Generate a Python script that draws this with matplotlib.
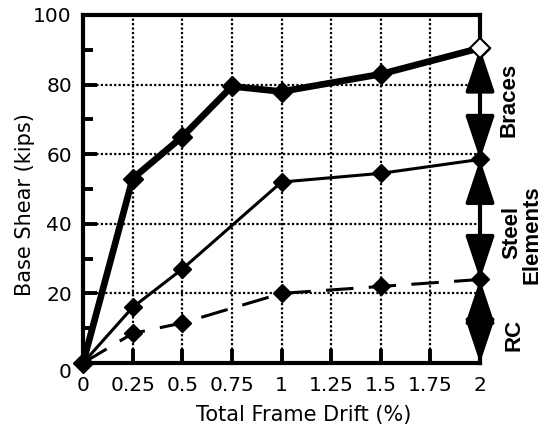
import matplotlib
matplotlib.use("Agg")
import matplotlib.pyplot as plt
from matplotlib.ticker import MultipleLocator

plt.rcParams['font.family'] = ['DejaVu Sans']

# drift (%) and base shear (kips)
drift = [0, 0.25, 0.5, 0.75, 1, 1.5, 2]
braces = [0, 53, 65, 79.5, 78, 83, 90.5]

drift_s = [0, 0.25, 0.5, 1, 1.5, 2]
steel = [0, 16, 27, 52, 54.5, 58.5]

drift_rc = [0, 0.25, 0.5, 1, 1.5, 2]
rc = [0, 8.5, 11.5, 20, 22, 24]

xticks = [0, 0.25, 0.5, 0.75, 1, 1.25, 1.5, 1.75, 2]
xticklabels = ["0", "0.25", "0.5", "0.75", "1", "1.25", "1.5", "1.75", "2"]
yticks = [0, 20, 40, 60, 80, 100]

fig = plt.figure(figsize=(5.44, 4.37), dpi=100)
ax = fig.add_axes([0.1526, 0.1693, 0.7298, 0.7964])

ax.grid(True, color="black", linestyle=(0, (1, 1)), linewidth=1.6)
ax.set_axisbelow(True)

ax.plot(drift, braces, color="black", lw=4.8, marker="D", ms=10.5,
        mfc="black", mec="black", clip_on=False, zorder=4)
ax.plot(drift[-1], braces[-1], marker="D", ms=10, mfc="white",
        mec="black", mew=1.5, clip_on=False, zorder=5)
ax.plot(drift_s, steel, color="black", lw=2.2, marker="D", ms=9.5,
        clip_on=False, zorder=4)
ax.plot(drift_rc, rc, color="black", lw=2.2, linestyle=(0, (9, 5)),
        marker="D", ms=9.5, clip_on=False, zorder=4)

# double arrows on the right edge
arr = dict(arrowstyle="<|-|>,head_length=2.7,head_width=0.9",
           color="black", lw=2.8, shrinkA=0, shrinkB=0, mutation_scale=10)
ax.annotate("", xy=(2, braces[-1]), xytext=(2, steel[-1]),
            arrowprops=arr, annotation_clip=False)
ax.annotate("", xy=(2, steel[-1]), xytext=(2, rc[-1]),
            arrowprops=arr, annotation_clip=False)
ax.annotate("", xy=(2, rc[-1]), xytext=(2, 0),
            arrowprops=arr, annotation_clip=False)

lab = dict(rotation=90, rotation_mode="anchor", ha="center", va="baseline",
           fontsize=16, fontweight="bold", family="Liberation Sans",
           clip_on=False)
ax.text(2.176, 75.6, "Braces", **lab)
ax.text(2.19, 37.6, "Steel", **lab)
ax.text(2.29, 36.8, "Elements", **lab)
ax.text(2.201, 8.0, "RC", **lab)

ax.set_xlim(0, 2)
ax.set_ylim(0, 100)
ax.set_xticks(xticks)
ax.set_xticklabels(xticklabels)
ax.set_yticks(yticks)
ax.yaxis.set_minor_locator(MultipleLocator(10))
ax.tick_params(axis="both", which="major", direction="in", length=10,
               width=2.8, labelsize=14.5)
ax.tick_params(axis="x", which="major", pad=9)
ax.tick_params(axis="y", which="major", pad=8)
ax.tick_params(axis="y", which="minor", direction="in", length=7,
               width=2.8)
ax.get_yticklabels()[0].set_va("top")

for s in ax.spines.values():
    s.set_linewidth(3)

ax.set_xlabel("Total Frame Drift (%)", fontsize=15)
ax.set_ylabel("Base Shear (kips)", fontsize=15)
ax.xaxis.label.set_va("center")
ax.yaxis.label.set_va("center")
ax.xaxis.set_label_coords(0.557, -0.149)
ax.yaxis.set_label_coords(-0.145, 0.454)

fig.savefig("out.png", dpi=100)
